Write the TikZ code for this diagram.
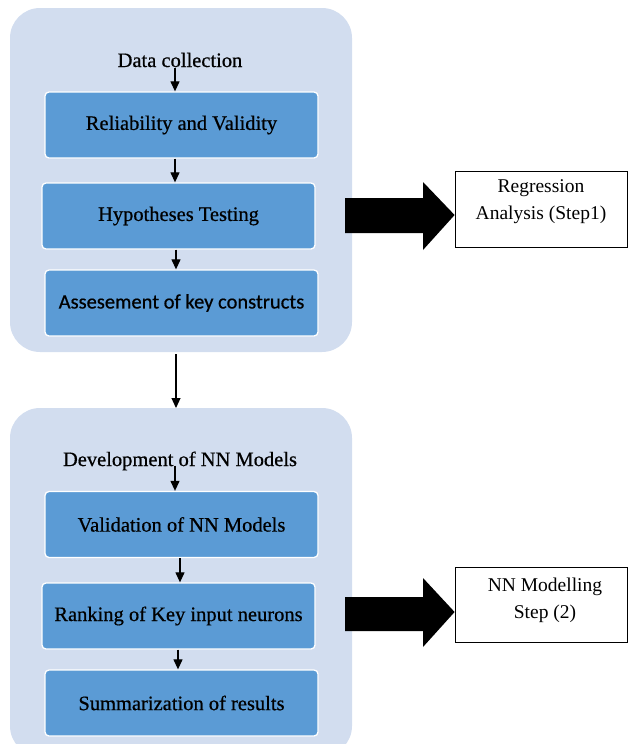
\documentclass[tikz,border=0pt]{standalone}
\usepackage{fontspec}
\setmainfont{Liberation Serif}
\newfontfamily\carlito[FakeBold=0.6]{Carlito}
\newfontfamily\heavyserif[FakeBold=0.6]{Liberation Serif}
\usetikzlibrary{arrows.meta}
\definecolor{contblue}{HTML}{D2DDEF}
\definecolor{boxblue}{HTML}{5B9BD5}
\tikzset{
  container/.style={fill=contblue, draw=none, rounded corners=30pt},
  stepbox/.style={fill=boxblue, draw=white, line width=1.3pt, rounded corners=4pt,
    minimum width=273pt, minimum height=66pt, inner sep=0pt,
    font=\heavyserif\fontsize{20.5}{24}\selectfont},
  title/.style={font=\heavyserif\fontsize{20.5}{24}\selectfont, inner sep=1pt},
  resbox/.style={draw=black, fill=white, line width=0.8pt, minimum width=172pt, inner sep=0pt},
  restext/.style={align=center, font=\fontsize{19.5}{27}\selectfont, inner sep=0pt},
  arr/.style={line width=1.2pt, -{Triangle[length=10pt,width=9pt]}},
  bigarrow/.style={fill=black}
}
\begin{document}
\begin{tikzpicture}[x=1pt,y=-1pt]
\useasboundingbox (0,0) rectangle (629,744);
% containers
\path[container] (10,8) rectangle (352,352);
\path[container] (10,408) rectangle (352,756);
\coordinate (cont1s) at (176,352);
\coordinate (cont2n) at (176,408);
% top group
\node[title] (dc) at (180,60) {Data collection};
\node[stepbox] (b1) at (181.5,125) {Reliability and Validity};
\node[stepbox] (b2) at (178.5,216) {Hypotheses Testing};
\node[stepbox, font=\carlito\fontsize{20.5}{24}\selectfont] (b3) at (181.5,303) {Assesement of key constructs};
% bottom group
\node[title] (dev) at (180,461) {Development of NN Models};
\node[stepbox] (b4) at (181.5,524.5) {Validation of NN Models};
\node[stepbox] (b5) at (178.5,616) {Ranking of Key input neurons};
\node[stepbox] (b6) at (181.5,703) {Summarization of results};
% small arrows
\coordinate (x1) at (175,0);
\coordinate (x2) at (176,0);
\coordinate (x3) at (180,0);
\coordinate (x4) at (178,0);
\draw[arr] (x1 |- dc.south) -- (x1 |- b1.north);
\draw[arr] (x1 |- b1.south) -- (x1 |- b2.north);
\draw[arr] (x2 |- b2.south) -- (x2 |- b3.north);
\draw[arr] (cont1s) ++(0,2) -- (cont2n);
\draw[arr] (x1 |- dev.south) ++(0,-6) -- (x1 |- b4.north);
\draw[arr] (x3 |- b4.south) -- (x3 |- b5.north);
\draw[arr] (x4 |- b5.south) -- (x4 |- b6.north);
% result boxes
\node[resbox, minimum height=76pt] (reg) at (541,209) {};
\node[restext] (regt) at (541,202) {Regression\\Analysis (Step1)};
\node[resbox, minimum height=75pt] (nnm) at (541,604.5) {};
\node[restext] (nnmt) at (545,600) {NN Modelling\\Step (2)};
% big arrows
\fill[bigarrow] (345,198) -- (423,198) -- (423,182) -- (reg.west |- 0,215) -- (423,250) -- (423,233) -- (345,233) -- cycle;
\fill[bigarrow] (345,597) -- (423,597) -- (423,578) -- (nnm.west |- 0,612) -- (423,647) -- (423,631) -- (345,631) -- cycle;
\end{tikzpicture}
\end{document}
